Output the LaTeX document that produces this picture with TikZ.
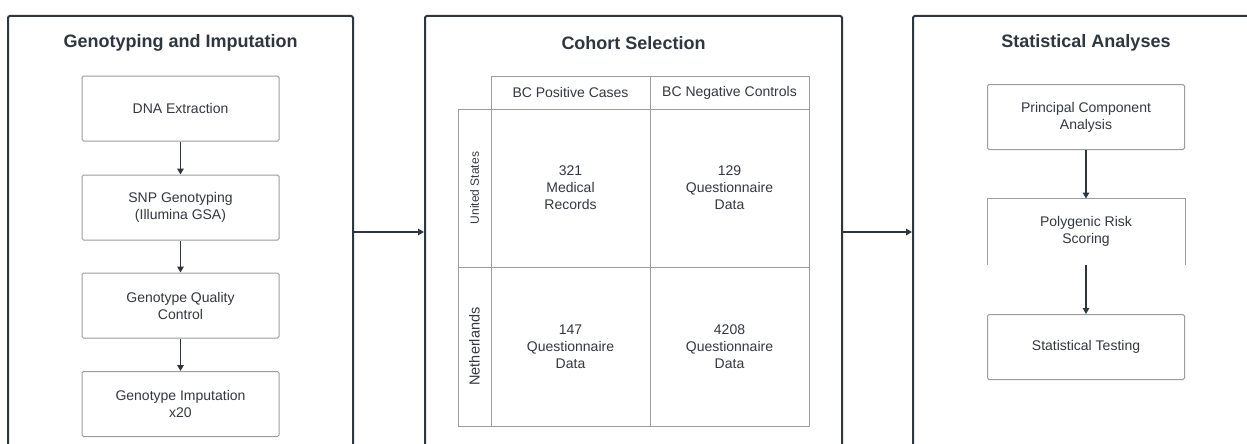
\documentclass[tikz,border=0pt]{standalone}
\usepackage{fontspec}
\setmainfont{Liberation Sans}
\usetikzlibrary{arrows.meta}
\definecolor{ink}{HTML}{2E3640}
\definecolor{boxline}{HTML}{9C9C9C}
\definecolor{txt}{HTML}{33383F}
\begin{document}
\begin{tikzpicture}[x=1pt,y=-1pt,
  panel/.style={draw=ink, line width=2pt, rounded corners=2pt, inner sep=0pt},
  ttl/.style={font=\fontsize{18}{21}\selectfont\bfseries, text=ink},
  stepbox/.style={draw=boxline, line width=1pt, rounded corners=1.5pt, minimum width=197pt, minimum height=65pt, inner sep=0pt, align=center, font=\fontsize{14}{17}\selectfont, text=txt},
  cell/.style={draw=boxline, line width=1pt, inner sep=0pt, align=center, font=\fontsize{14}{17}\selectfont, text=txt},
  arr/.style={draw=ink, line width=1.6pt, -{Triangle[length=6pt,width=6.5pt]}}
]
\useasboundingbox (0,0) rectangle (1247,444);
\clip (0,0) rectangle (1247,444);
\fill[white] (0,0) rectangle (1247,444);

% panels
\node[panel, minimum width=345pt, minimum height=432pt] (p1) at (180.5,232) {};
\node[panel, minimum width=417pt, minimum height=432pt] (p2) at (633.5,232) {};
\node[panel, minimum width=347pt, minimum height=432pt] (p3) at (1086.5,232) {};

\node[ttl] (t1) at (180.5,43) {Genotyping and Imputation};
\node[ttl] (t2) at (633.5,43) {Cohort Selection};
\node[ttl] (t3) at (1086,43) {Statistical Analyses};

% panel 1 steps
\node[stepbox] (b1) at (180.5,108.5) {DNA Extraction};
\node[stepbox] (b2) at (180.5,207.5) {SNP Genotyping\\(Illumina GSA)};
\node[stepbox] (b3) at (180.5,305.5) {Genotype Quality\\Control};
\node[stepbox] (b4) at (180.5,404) {Genotype Imputation\\x20};
\draw[arr] (b1) -- (b2);
\draw[arr] (b2) -- (b3);
\draw[arr] (b3) -- (b4);

% table
\node[cell, minimum width=159pt, minimum height=33pt] (h1) at (570.5,92.5) {BC Positive Cases};
\node[cell, minimum width=159pt, minimum height=33pt] (h2) at (729.5,92.5) {BC Negative Controls};
\node[cell, minimum width=33pt, minimum height=158pt] (r1) at (474.5,188) {};
\node[cell, minimum width=33pt, minimum height=159pt] (r2) at (474.5,346.5) {};
\node[rotate=90, font=\fontsize{12}{14}\selectfont, text=txt] (l1) at (r1) {United States};
\node[rotate=90, font=\fontsize{14.5}{17}\selectfont, text=txt] (l2) at (r2) {Netherlands};
\node[cell, minimum width=159pt, minimum height=158pt] (c11) at (570.5,188) {321\\Medical\\Records};
\node[cell, minimum width=159pt, minimum height=158pt] (c12) at (729.5,188) {129\\Questionnaire\\Data};
\node[cell, minimum width=159pt, minimum height=159pt] (c21) at (570.5,346.5) {147\\Questionnaire\\Data};
\node[cell, minimum width=159pt, minimum height=159pt] (c22) at (729.5,346.5) {4208\\Questionnaire\\Data};

% panel 3 steps
\node[stepbox] (s1) at (1086,117) {Principal Component\\Analysis};
\node[stepbox, draw=none] (s2) at (1086,231.5) {Polygenic Risk\\Scoring};
\draw[boxline, line width=1pt] (s2.south west) -- (s2.north west) -- (s2.north east) -- (s2.south east);
\node[stepbox] (s3) at (1086,347) {Statistical Testing};
\draw[arr] (s1) -- (s2);
\draw[arr] (s2) -- (s3);

% between panels
\draw[arr] (p1) -- (p2);
\draw[arr] (p2) -- (p3);
\end{tikzpicture}
\end{document}
